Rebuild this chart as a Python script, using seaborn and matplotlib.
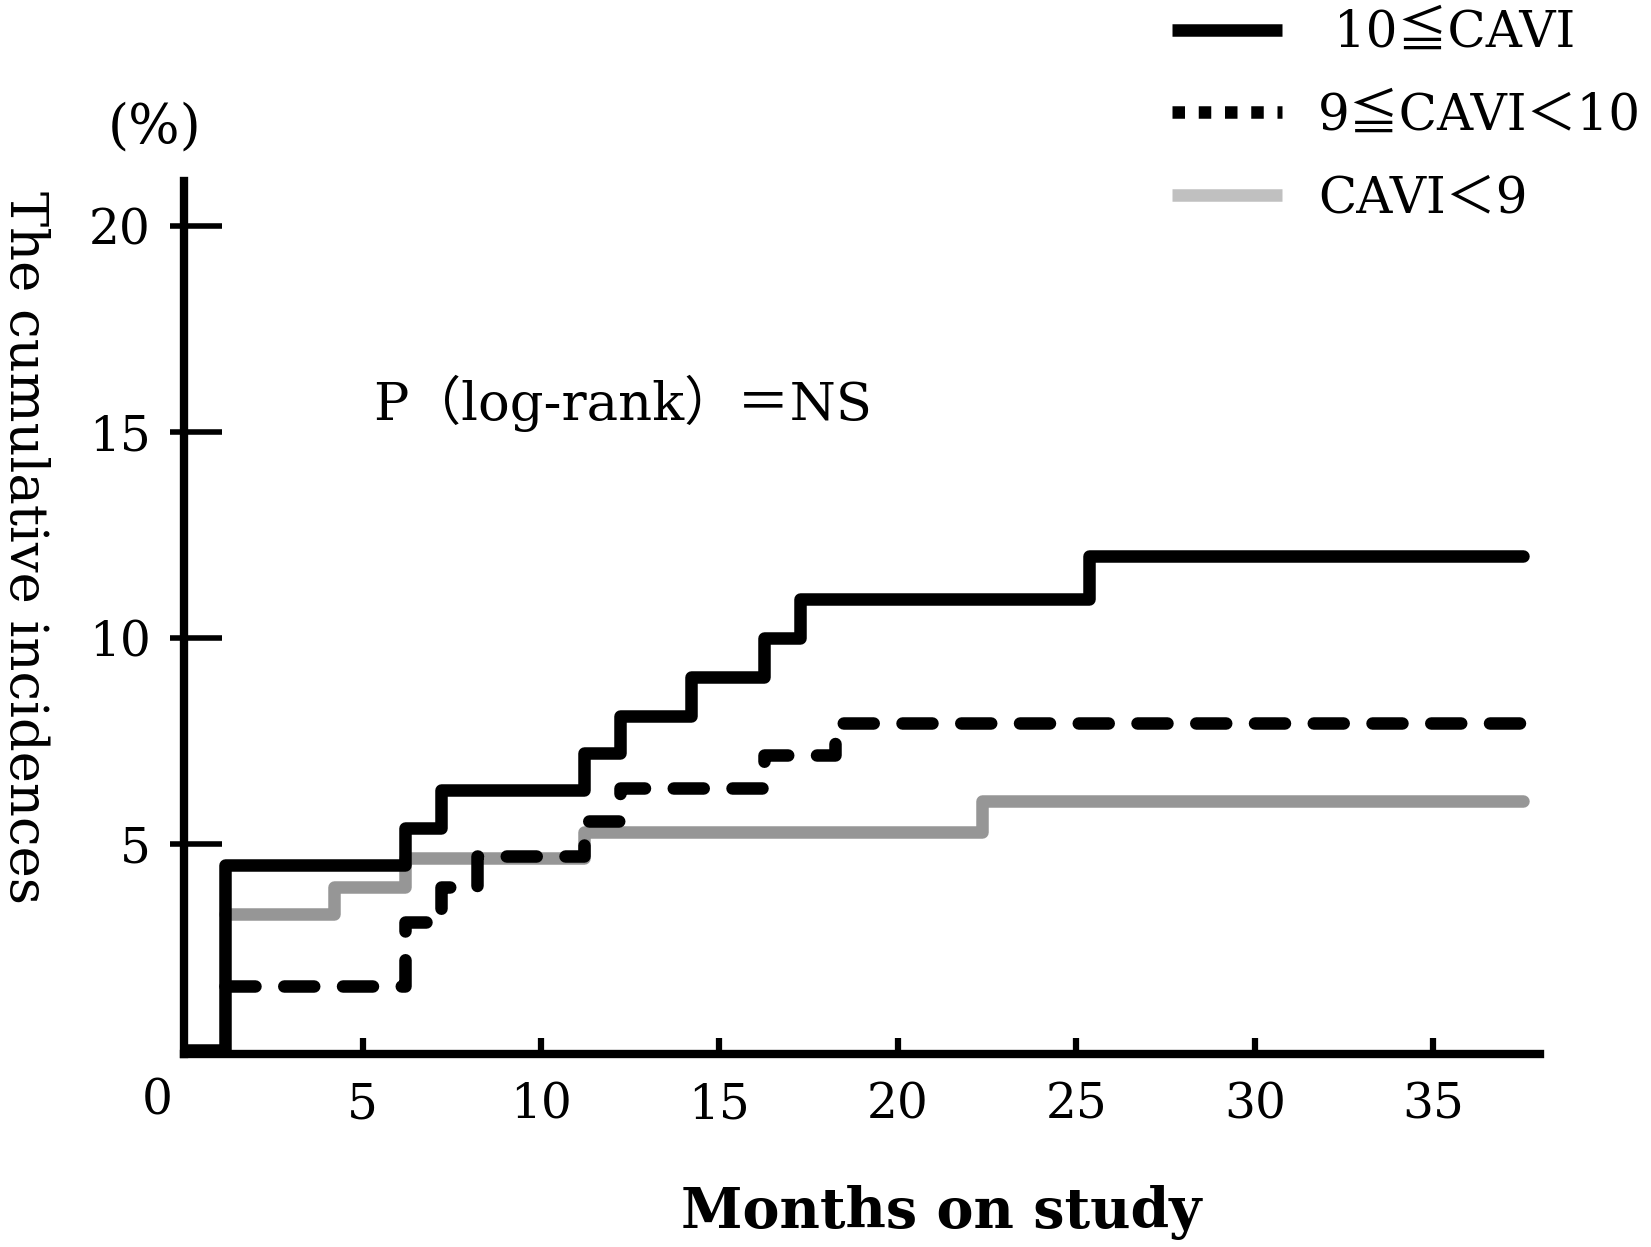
import matplotlib
matplotlib.use("Agg")
import matplotlib.pyplot as plt
from matplotlib.lines import Line2D
import pandas as pd
import seaborn as sns

# step data (months, % cumulative)
hi_months = [0, 1.15, 6.2, 7.2, 11.2, 12.2, 14.2, 16.25, 17.25, 25.35, 37.5]
hi_values = [0, 4.5, 5.4, 6.3, 7.2, 8.1, 9.05, 10.0, 10.95, 12.0, 12.0]

mid_months = [1.15, 6.2, 7.2, 8.2, 11.2, 12.2, 16.25, 18.25, 37.5]
mid_values = [1.55, 3.1, 3.95, 4.7, 5.55, 6.35, 7.15, 7.95, 7.95]

lo_months = [1.15, 4.2, 6.2, 11.2, 22.35, 37.5]
lo_values = [3.3, 3.95, 4.65, 5.3, 6.05, 6.05]

labels = [" 10≦CAVI", "9≦CAVI＜10", "CAVI＜9"]
x_ticks = [5, 10, 15, 20, 25, 30, 35]
y_ticks = [5, 10, 15, 20]

sns.set_style("ticks")
plt.rcParams['font.family'] = ['DejaVu Serif', 'Noto Sans CJK JP']
plt.rcParams['axes.unicode_minus'] = False
plt.rcParams['text.color'] = 'black'
plt.rcParams['axes.labelcolor'] = 'black'
plt.rcParams['xtick.color'] = 'black'
plt.rcParams['ytick.color'] = 'black'

fig = plt.figure(figsize=(16.51, 12.47), dpi=100)
ax = fig.add_axes([0.1115, 0.1548, 0.8215, 0.70])

df_lo = pd.DataFrame({"month": lo_months, "value": lo_values})
df_mid = pd.DataFrame({"month": mid_months, "value": mid_values})
df_hi = pd.DataFrame({"month": hi_months, "value": hi_values})

# grey first, dashed over it, solid on top
sns.lineplot(data=df_lo, x="month", y="value", ax=ax, estimator=None, sort=False,
             drawstyle="steps-post", color="#969696", linewidth=9,
             solid_capstyle="round", solid_joinstyle="round")
sns.lineplot(data=df_mid, x="month", y="value", ax=ax, estimator=None, sort=False,
             drawstyle="steps-post", color="black", linewidth=9,
             linestyle=(0, (2.4, 2.3)), dash_capstyle="round", dash_joinstyle="round")
sns.lineplot(data=df_hi, x="month", y="value", ax=ax, estimator=None, sort=False,
             drawstyle="steps-post", color="black", linewidth=9,
             solid_capstyle="round", solid_joinstyle="round")

ax.set_xlim(0, 38)
ax.set_ylim(-0.1, 21.1)
sns.despine(ax=ax)
for side in ["left", "bottom"]:
    ax.spines[side].set_linewidth(6)
    ax.spines[side].set_color("black")

ax.set_xticks(x_ticks)
ax.set_yticks(y_ticks)
ax.set_yticks(y_ticks, minor=True)
ax.yaxis.remove_overlapping_locs = False
ax.tick_params(axis="x", which="major", direction="in", length=11.5, width=4.5,
               pad=20, labelsize=35, colors="black")
ax.tick_params(axis="y", which="major", direction="in", length=27, width=4,
               pad=24, labelsize=35, colors="black")
ax.tick_params(axis="y", which="minor", direction="out", length=10, width=4, colors="black")
ax.tick_params(axis="x", which="minor", bottom=False)

ax.set_xlabel("Months on study", fontsize=40, fontweight="bold", va="center")
ax.xaxis.set_label_coords(0.558, -0.182)
ax.set_ylabel("The cumulative incidences", fontsize=38, rotation=270, va="center", ha="center")
ax.yaxis.set_label_coords(-0.118, 0.58)

fig.text(157 / 1651, 1 - 1101 / 1247, "0", fontsize=35, ha="center", va="center")
fig.text(155 / 1651, 1 - 128 / 1247, "(%)", fontsize=39, ha="center", va="center")

ax.text(5.3, 15.7, "P（log-rank）＝NS", fontsize=38, va="center", ha="left")

handles = [
    Line2D([], [], color="black", linewidth=9, solid_capstyle="butt"),
    Line2D([], [], color="black", linewidth=9, linestyle=(0, (1.0, 1.1)), dash_capstyle="butt"),
    Line2D([], [], color="#c0c0c0", linewidth=9, solid_capstyle="butt"),
]
fig.legend(handles, labels, loc="upper left", bbox_to_anchor=(1172 / 1651, 0.993),
           frameon=False, fontsize=36, handlelength=2.2, handletextpad=0.72,
           labelspacing=0.66, borderpad=0, borderaxespad=0)

fig.savefig("out.png", dpi=100)
